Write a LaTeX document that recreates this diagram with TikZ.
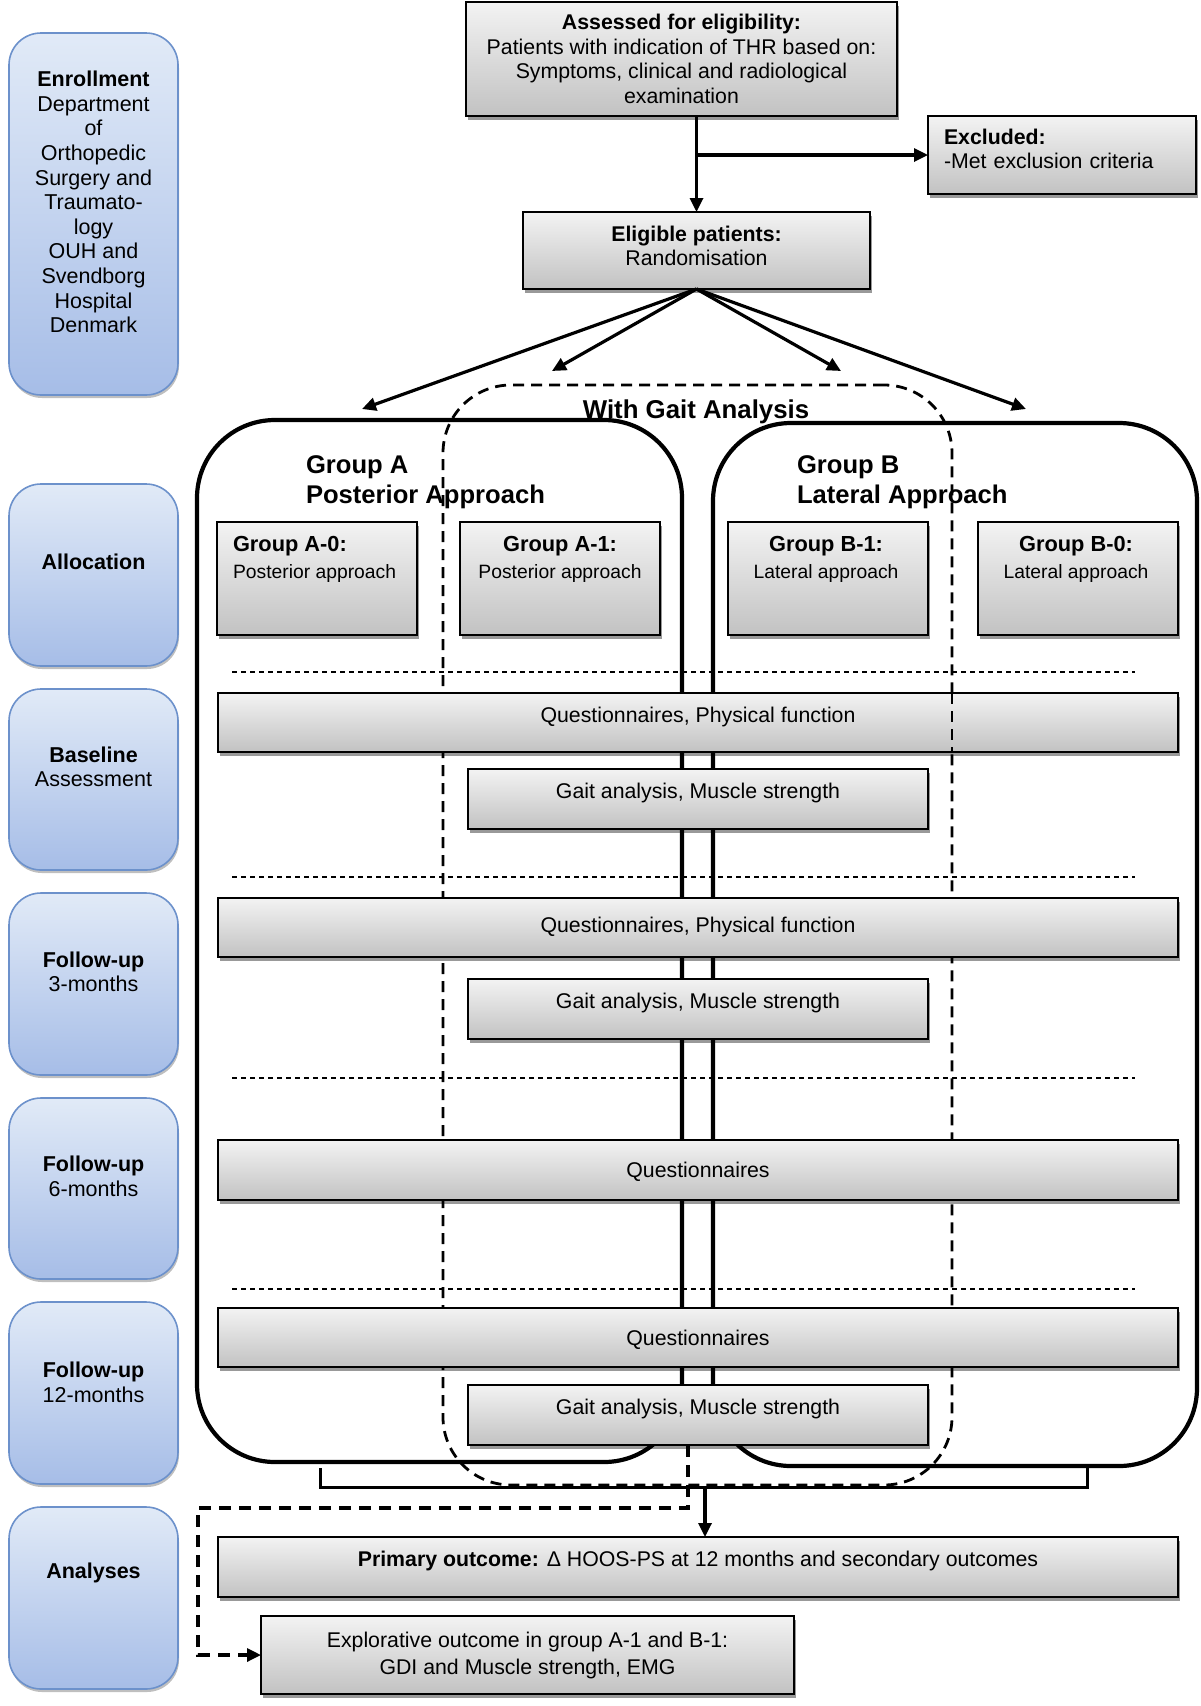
\documentclass[tikz,border=0pt]{standalone}
\usepackage{fontspec}
\setmainfont{Liberation Sans}
\usetikzlibrary{arrows.meta,shadows}
\definecolor{gtop}{HTML}{F3F3F3}
\definecolor{gbot}{HTML}{C2C2C2}
\definecolor{btop}{HTML}{E1EAF7}
\definecolor{bbot}{HTML}{A6BDE7}
\definecolor{bdraw}{HTML}{6C91CB}
\newcommand\subheadfont{\fontsize{21.8}{27}\selectfont\bfseries}
\begin{document}
\begin{tikzpicture}[x=1pt,y=-1pt,
  every node/.style={inner sep=0pt, outer sep=0pt, font=\fontsize{21.3}{24.5}\selectfont},
  gbox/.style={draw=black, line width=1.9pt, top color=gtop, bottom color=gbot,
    drop shadow={shadow xshift=1.5pt, shadow yshift=-4pt, opacity=0.4, fill=black}},
  sidebox/.style={draw=bdraw, line width=1.6pt, rounded corners=32pt, top color=btop, bottom color=bbot,
    minimum width=169pt, drop shadow={shadow xshift=1pt, shadow yshift=-3pt, opacity=0.25, fill=black}},
  sidetxt/.style={align=center, font=\fontsize{21.5}{24.6}\selectfont},
  grp/.style={draw=black, line width=4.2pt, rounded corners=78pt},
  gaitgrp/.style={draw=black, line width=2.8pt, dash pattern=on 11pt off 7pt, rounded corners=68pt},
  sep/.style={draw=black, line width=1.4pt, dash pattern=on 5pt off 4pt},
  arr/.style={draw=black, line width=3.2pt, -{Triangle[length=14pt,width=13pt]}},
  dconn/.style={draw=black, line width=3.2pt, dash pattern=on 12pt off 8pt, -{Triangle[length=14pt,width=13pt]}},
  bar/.style={draw=black, line width=3pt},
  upshift/.style={text height=15pt, text depth=16pt},
  mid/.style={text height=15pt, text depth=0pt},
  subtxt/.style={font=\fontsize{19.3}{27}\selectfont},
  title/.style={align=left, anchor=west, font=\fontsize{25.6}{30}\selectfont\bfseries},
]
\useasboundingbox (0,0) rectangle (1200,1706);

% ---------- side phase boxes ----------
\node[sidebox, minimum height=362pt] (s1) at (93.5,214) {};
\node[sidetxt] (s1t) at (93.5,202) {\textbf{Enrollment}\\Department\\of\\Orthopedic\\Surgery and\\Traumato-\\logy\\OUH and\\Svendborg\\Hospital\\Denmark};
\node[sidebox, minimum height=182pt] (s2) at (93.5,575) {};
\node[sidetxt] (s2t) at (93.5,562) {\textbf{Allocation}};
\node[sidebox, minimum height=181pt] (s3) at (93.5,779.5) {};
\node[sidetxt] (s3t) at (93.5,767) {\textbf{Baseline}\\Assessment};
\node[sidebox, minimum height=182pt] (s4) at (93.5,984) {};
\node[sidetxt] (s4t) at (93.5,972) {\textbf{Follow-up}\\3-months};
\node[sidebox, minimum height=181pt] (s5) at (93.5,1188.5) {};
\node[sidetxt] (s5t) at (93.5,1176) {\textbf{Follow-up}\\6-months};
\node[sidebox, minimum height=182pt] (s6) at (93.5,1393) {};
\node[sidetxt] (s6t) at (93.5,1382) {\textbf{Follow-up}\\12-months};
\node[sidebox, minimum height=182pt] (s7) at (93.5,1598) {};
\node[sidetxt] (s7t) at (93.5,1573) {\textbf{Analyses}};

% ---------- group containers ----------
\node[grp, minimum width=485pt, minimum height=1042pt] (grpA) at (439.5,941) {};
\node[grp, minimum width=484pt, minimum height=1043pt] (grpB) at (955,944.5) {};
\node[gaitgrp, minimum width=509pt, minimum height=1100pt] (gg) at (697.5,935) {};

% ---------- separators ----------
\foreach \yy in {672,877,1078,1289} \draw[sep] (232,\yy) -- (1135,\yy);

% ---------- top of flow ----------
\node[gbox, minimum width=431pt, minimum height=114pt, align=center] (top) at (681.5,59)
  {\textbf{Assessed for eligibility:}\\Patients with indication of THR based on:\\Symptoms, clinical and radiological\\examination};
\node[gbox, minimum width=268pt, minimum height=78pt] (excl) at (1062,155) {};
\node[align=left, text width=236pt] (exclt) at (1062,149) {\textbf{Excluded:}\\-Met exclusion criteria};
\node[gbox, minimum width=347pt, minimum height=77pt] (elig) at (696.5,250.5) {};
\node[align=center] (eligt) at (696.5,246) {\textbf{Eligible patients:}\\Randomisation};

\coordinate (brk) at (elig.north |- top.south);
\coordinate (brx) at (elig.north |- excl.west);
\draw[bar] (brk) -- (brx);
\draw[arr] (brx) -- (elig.north);
\draw[arr] (brx) -- (excl.west);

\coordinate (tA0) at (362,409);
\coordinate (tA1) at (552,371);
\coordinate (tB1) at (841,371);
\coordinate (tB0) at (1026,409);
\foreach \t in {tA0,tA1,tB1,tB0} \draw[arr] (elig.south) -- (\t);

% ---------- titles ----------
\node[title] (ta) at (306,482) {Group A\\Posterior Approach};
\node[title] (tb) at (797,482) {Group B\\Lateral Approach};
\node[font=\fontsize{25.8}{30}\selectfont\bfseries, text height=18.5pt, text depth=0pt] (wga) at (696,409) {With Gait Analysis};

% ---------- subgroup boxes ----------
\node[gbox, minimum width=200pt, minimum height=113pt] (a0) at (317,578.5) {};
\node[subtxt, align=left, anchor=west] (a0t) at (233,559) {{\subheadfont Group A-0:}\\Posterior approach};
\node[gbox, minimum width=200pt, minimum height=113pt] (a1) at (560,578.5) {};
\node[subtxt, align=center] (a1t) at (560,559) {{\subheadfont Group A-1:}\\Posterior approach};
\node[gbox, minimum width=200pt, minimum height=113pt] (b1) at (828,578.5) {};
\node[subtxt, align=center] (b1t) at (826,559) {{\subheadfont Group B-1:}\\Lateral approach};
\node[gbox, minimum width=200pt, minimum height=113pt] (b0) at (1078,578.5) {};
\node[subtxt, align=center] (b0t) at (1076,559) {{\subheadfont Group B-0:}\\Lateral approach};

% ---------- assessment boxes ----------
\node[gbox, minimum width=960pt, minimum height=59pt, upshift] (q1) at (698,722.5) {Questionnaires, Physical function};
\draw[gaitgrp] (gg.east |- q1.north) -- (gg.east |- q1.south);
\node[gbox, minimum width=460pt, minimum height=60pt, upshift] (g1) at (698,799) {Gait analysis, Muscle strength};
\node[gbox, minimum width=960pt, minimum height=59pt, text height=15pt, text depth=5pt] (q2) at (698,927.5) {Questionnaires, Physical function};
\node[gbox, minimum width=460pt, minimum height=60pt, upshift] (g2) at (698,1009) {Gait analysis, Muscle strength};
\node[gbox, minimum width=960pt, minimum height=60pt, mid] (q3) at (698,1170) {Questionnaires};
\node[gbox, minimum width=960pt, minimum height=59pt, mid] (q4) at (698,1337.5) {Questionnaires};
\node[gbox, minimum width=460pt, minimum height=60pt, upshift] (g3) at (698,1415) {Gait analysis, Muscle strength};

% ---------- analyses ----------
\coordinate (bl) at (320,1468);
\coordinate (br) at (1087,1468);
\coordinate (bc) at (705,1487);
\draw[bar] (bl) |- (bc) -| (br);

\node[gbox, minimum width=960pt, minimum height=60pt, upshift] (prim) at (698,1567)
  {\textbf{Primary outcome:} Δ HOOS-PS at 12 months and secondary outcomes};
\draw[arr] (bc) -- (bc |- prim.north);

\node[gbox, minimum width=533pt, minimum height=78pt, align=center, font=\fontsize{21.3}{27}\selectfont] (expl) at (527.5,1655)
  {Explorative outcome in group A-1 and B-1:\\GDI and Muscle strength, EMG};

\coordinate (dk) at (198,1508);
\draw[dconn] ([xshift=-10pt]g3.south) |- (dk) |- (expl.west);
\end{tikzpicture}
\end{document}
